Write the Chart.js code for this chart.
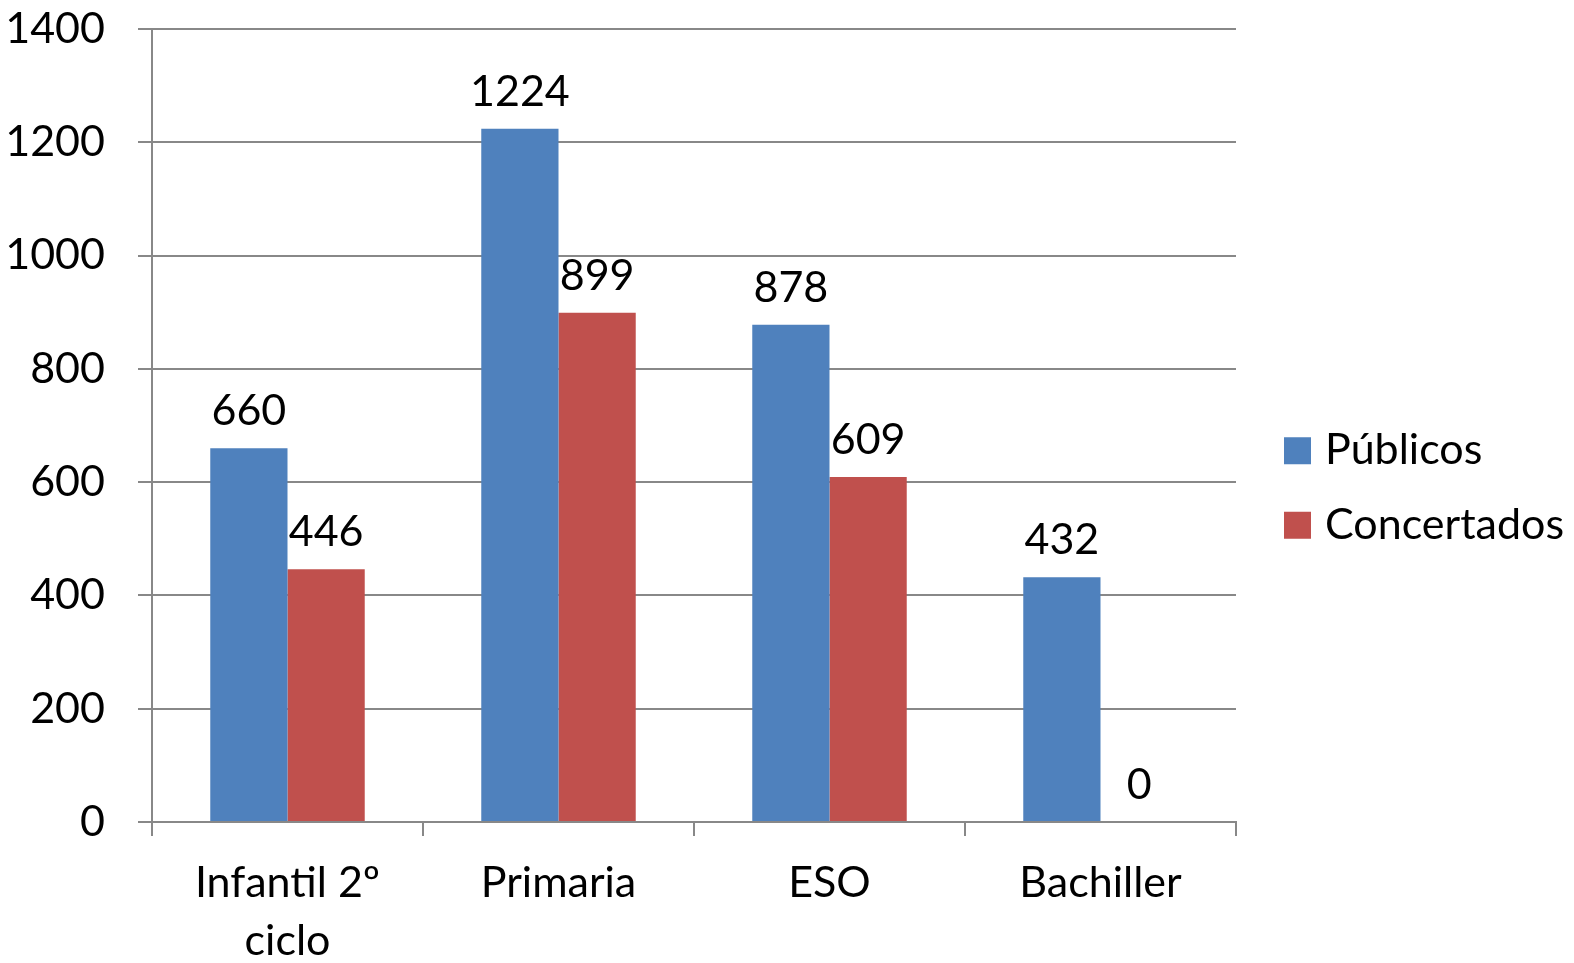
<!DOCTYPE html>
<html>
<head>
<meta charset="utf-8">
<script src="https://cdn.jsdelivr.net/npm/chart.js@4"></script>
<style>
  html, body { margin: 0; padding: 0; background: #fff; }
  #wrap { width: 1574px; height: 963px; }
</style>
</head>
<body>
<div id="wrap"><canvas id="chart"></canvas></div>
<script>
const categories = [['Infantil 2º', 'ciclo'], 'Primaria', 'ESO', 'Bachiller'];
const publicos = [660, 1224, 878, 432];
const concertados = [446, 899, 609, 0];
const yTicks = [0, 200, 400, 600, 800, 1000, 1200, 1400];

const FONT = 'Lato';
const FS = 43;

// draws the value above every bar
const valueLabels = {
  id: 'valueLabels',
  afterDatasetsDraw(chart) {
    const ctx = chart.ctx;
    ctx.save();
    ctx.font = FS + 'px ' + FONT;
    ctx.fillStyle = '#000';
    ctx.textAlign = 'center';
    ctx.textBaseline = 'alphabetic';
    chart.data.datasets.forEach((ds, i) => {
      chart.getDatasetMeta(i).data.forEach((bar, j) => {
        ctx.fillText(String(ds.data[j]), bar.x, bar.y - 23);
      });
    });
    ctx.restore();
  }
};

// legend on the right, drawn by hand so the spacing matches
const sideLegend = {
  id: 'sideLegend',
  afterDraw(chart) {
    const ctx = chart.ctx;
    const x = chart.chartArea.right + 48;
    const step = 74.5;
    const n = chart.data.datasets.length;
    let cy = chart.height / 2 + 6 - step * (n - 1) / 2;
    ctx.save();
    ctx.font = FS + 'px ' + FONT;
    ctx.textAlign = 'left';
    ctx.textBaseline = 'alphabetic';
    chart.data.datasets.forEach(ds => {
      ctx.fillStyle = ds.backgroundColor;
      ctx.fillRect(x, cy - 13, 27, 27);
      ctx.fillStyle = '#000';
      ctx.fillText(ds.label, x + 41, cy + 14);
      cy += step;
    });
    ctx.restore();
  }
};

new Chart(document.getElementById('chart'), {
  type: 'bar',
  data: {
    labels: categories,
    datasets: [
      { label: 'Públicos', data: publicos, backgroundColor: '#4F81BD' },
      { label: 'Concertados', data: concertados, backgroundColor: '#C0504D' }
    ]
  },
  options: {
    responsive: true,
    maintainAspectRatio: false,
    animation: false,
    categoryPercentage: 0.57,
    barPercentage: 1,
    layout: { padding: { top: 29, left: 0, right: 338, bottom: 0 } },
    plugins: {
      legend: { display: false },
      tooltip: { enabled: false }
    },
    scales: {
      x: {
        afterFit(scale) {
          scale.height = 141;
          scale.paddingLeft = 0;
          scale.paddingRight = 0;
        },
        grid: { offset: true, drawOnChartArea: false, tickLength: 14, color: '#888', lineWidth: 2 },
        border: { color: '#888', width: 2 },
        ticks: { color: '#000', font: { family: FONT, size: FS, lineHeight: 1.35 }, padding: 18 }
      },
      y: {
        min: 0,
        max: 1400,
        afterBuildTicks(scale) { scale.ticks = yTicks.map(v => ({ value: v })); },
        afterFit(scale) {
          scale.width = 152;
          scale.paddingTop = 0;
          scale.paddingBottom = 0;
        },
        grid: { color: '#888', lineWidth: 2, tickLength: 14 },
        border: { color: '#888', width: 2 },
        ticks: {
          color: '#000',
          font: { family: FONT, size: FS },
          padding: 33,
          callback: v => String(v)
        }
      }
    }
  },
  plugins: [valueLabels, sideLegend]
});
</script>
</body>
</html>
